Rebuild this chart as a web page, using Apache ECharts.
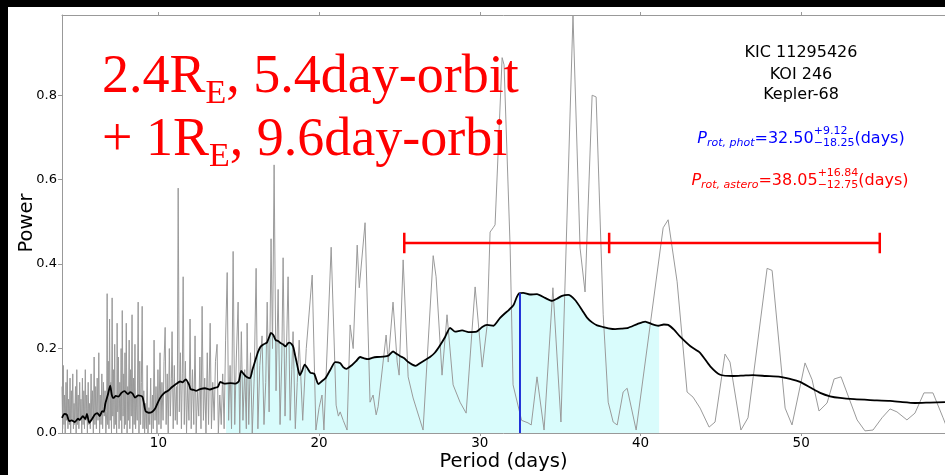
<!DOCTYPE html>
<html><head><meta charset="utf-8">
<script src="https://cdn.jsdelivr.net/npm/echarts@6/dist/echarts.min.js"></script>
<style>html,body{margin:0;padding:0;background:#000;}#c{width:945px;height:475px;}</style>
</head><body><div id="c"></div>
<script>
// ---------------- DATA ----------------
const periodogram = [
[4.00,0.11],[4.04,0.01],[4.08,0.16],[4.12,0.02],[4.16,0.09],[4.20,0.00],[4.25,0.12],[4.29,0.03],[4.33,0.15],[4.37,0.01],
[4.41,0.08],[4.46,0.02],[4.50,0.13],[4.54,0.00],[4.58,0.10],[4.62,0.03],[4.67,0.14],[4.71,0.01],[4.75,0.07],[4.79,0.02],
[4.84,0.11],[4.88,0.00],[4.92,0.15],[4.96,0.02],[5.01,0.09],[5.05,0.01],[5.10,0.12],[5.14,0.03],[5.18,0.08],[5.23,0.00],
[5.27,0.13],[5.31,0.02],[5.36,0.10],[5.40,0.01],[5.45,0.15],[5.49,0.03],[5.54,0.09],[5.58,0.00],[5.63,0.12],[5.67,0.02],
[5.72,0.07],[5.76,0.01],[5.81,0.14],[5.85,0.03],[5.90,0.10],[5.95,0.00],[6.00,0.18],[6.05,0.02],[6.10,0.11],[6.14,0.01],
[6.19,0.13],[6.24,0.03],[6.29,0.19],[6.34,0.00],[6.38,0.09],[6.43,0.02],[6.48,0.14],[6.53,0.01],[6.58,0.12],[6.63,0.04],
[6.68,0.10],[6.73,0.00],[6.78,0.05],[6.81,0.33],[6.84,0.02],[6.88,0.17],[6.92,0.01],[6.96,0.27],[7.00,0.03],[7.04,0.12],
[7.08,0.00],[7.12,0.32],[7.16,0.04],[7.20,0.15],[7.24,0.01],[7.28,0.21],[7.32,0.02],[7.36,0.09],[7.40,0.00],[7.43,0.26],
[7.47,0.05],[7.51,0.18],[7.55,0.01],[7.60,0.12],[7.64,0.03],[7.68,0.20],[7.72,0.00],[7.75,0.29],[7.80,0.04],[7.84,0.14],
[7.88,0.01],[7.92,0.19],[7.96,0.02],[8.00,0.26],[8.05,0.00],[8.09,0.11],[8.13,0.03],[8.18,0.22],[8.22,0.01],[8.27,0.15],
[8.31,0.04],[8.36,0.28],[8.40,0.00],[8.45,0.13],[8.49,0.02],[8.54,0.21],[8.58,0.01],[8.63,0.09],[8.68,0.03],[8.74,0.31],
[8.79,0.00],[8.84,0.17],[8.89,0.02],[8.94,0.12],[8.99,0.30],[9.04,0.01],[9.09,0.10],[9.14,0.00],[9.20,0.07],[9.25,0.01],
[9.30,0.16],[9.35,0.00],[9.41,0.06],[9.46,0.02],[9.52,0.13],[9.57,0.00],[9.63,0.09],[9.68,0.01],[9.73,0.22],[9.79,0.03],
[9.85,0.11],[9.91,0.00],[9.97,0.15],[10.03,0.02],[10.10,0.19],[10.16,0.01],[10.22,0.12],[10.29,0.03],[10.35,0.17],[10.42,0.25],
[10.48,0.02],[10.55,0.14],[10.61,0.00],[10.68,0.20],[10.74,0.04],[10.81,0.13],[10.85,0.24],[10.92,0.01],[10.99,0.16],[11.05,0.03],
[11.12,0.11],[11.17,0.02],[11.23,0.58],[11.30,0.05],[11.37,0.19],[11.43,0.01],[11.49,0.14],[11.54,0.37],[11.61,0.02],[11.68,0.17],
[11.75,0.00],[11.82,0.12],[11.90,0.03],[11.97,0.27],[12.04,0.01],[12.12,0.15],[12.20,0.02],[12.28,0.23],[12.35,0.00],[12.43,0.10],
[12.51,0.04],[12.58,0.18],[12.65,0.01],[12.72,0.30],[12.80,0.03],[12.88,0.13],[12.96,0.00],[13.04,0.19],[13.12,0.02],[13.22,0.26],
[13.30,0.01],[13.38,0.12],[13.47,0.03],[13.55,0.17],[13.65,0.21],[13.73,0.00],[13.82,0.09],[13.91,0.02],[14.00,0.14],[14.09,0.01],
[14.18,0.22],[14.28,0.38],[14.37,0.03],[14.46,0.16],[14.55,0.01],[14.65,0.43],[14.75,0.02],[14.85,0.18],[14.96,0.31],[15.06,0.00],
[15.16,0.24],[15.26,0.03],[15.37,0.15],[15.47,0.01],[15.52,0.26],[15.62,0.02],[15.73,0.19],[15.84,0.00],[15.96,0.13],[16.08,0.39],
[16.19,0.01],[16.31,0.16],[16.45,0.23],[16.57,0.02],[16.68,0.12],[16.77,0.31],[16.89,0.05],[17.01,0.46],[17.10,0.20],[17.20,0.635],
[17.32,0.10],[17.45,0.34],[17.57,0.02],[17.68,0.18],[17.76,0.415],[17.88,0.04],[18.07,0.37],[18.20,0.03],[18.30,0.15],[18.38,0.24],
[18.52,0.01],[18.64,0.12],[18.76,0.22],[18.98,0.03],[19.20,0.20],[19.57,0.374],[19.80,0.007],[20.00,0.06],[20.18,0.09],[20.30,0.007],
[20.75,0.44],[21.06,0.066],[21.20,0.04],[21.31,0.05],[21.50,0.03],[21.74,0.007],[21.93,0.256],[22.12,0.20],[22.37,0.445],[22.50,0.344],
[22.86,0.498],[23.17,0.073],[23.36,0.09],[23.55,0.043],[23.67,0.062],[24.17,0.232],[24.30,0.168],[24.60,0.31],[24.86,0.168],[24.98,0.137],
[25.23,0.41],[25.54,0.133],[25.85,0.083],[26.47,0.007],[27.10,0.42],[27.28,0.37],[27.65,0.137],[27.96,0.28],[28.34,0.114],[28.77,0.073],
[29.15,0.047],[29.71,0.346],[30.15,0.156],[30.46,0.256],[30.64,0.476],[30.83,0.486],[30.95,0.493],[31.39,0.889],[31.51,0.872],[31.89,0.438],
[32.07,0.114],[32.60,0.03],[33.00,0.024],[33.20,0.019],[33.56,0.133],[34.00,0.007],[34.55,0.344],[35.05,0.026],[35.80,0.99],[36.24,0.438],
[36.55,0.334],[36.99,0.80],[37.24,0.796],[37.68,0.28],[37.99,0.073],[38.30,0.026],[38.55,0.019],[38.92,0.097],[39.17,0.106],[39.73,0.007],
[41.41,0.486],[41.72,0.505],[42.28,0.358],[42.90,0.097],[43.27,0.085],[43.71,0.059],[44.27,0.014],[44.64,0.026],[45.26,0.187],[45.57,0.168],
[46.25,0.007],[46.69,0.036],[47.88,0.39],[48.19,0.385],[49.00,0.059],[49.43,0.019],[50.24,0.166],[50.68,0.126],[51.11,0.052],[51.61,0.071],
[52.05,0.128],[52.48,0.133],[53.48,0.031],[53.97,0.005],[54.47,0.007],[55.03,0.036],[55.53,0.057],[55.96,0.05],[56.58,0.031],[57.08,0.047],
[57.64,0.095],[58.20,0.095],[58.83,0.036],[59.20,0.00]
];
const smoothed = [
[4.0,0.036],[4.15,0.045],[4.3,0.043],[4.45,0.028],[4.6,0.03],[4.8,0.026],[5.0,0.034],[5.1,0.031],[5.3,0.04],[5.45,0.033],
[5.55,0.045],[5.7,0.024],[5.9,0.035],[6.05,0.044],[6.2,0.047],[6.35,0.04],[6.5,0.052],[6.6,0.05],[6.7,0.07],[6.85,0.09],
[7.0,0.112],[7.1,0.09],[7.2,0.083],[7.35,0.088],[7.5,0.086],[7.7,0.095],[7.9,0.099],[8.1,0.092],[8.25,0.097],[8.4,0.093],
[8.55,0.084],[8.75,0.089],[9.0,0.086],[9.1,0.07],[9.2,0.052],[9.4,0.048],[9.6,0.05],[9.8,0.058],[10.0,0.075],[10.2,0.088],
[10.4,0.096],[10.6,0.1],[10.85,0.109],[11.1,0.116],[11.35,0.122],[11.5,0.12],[11.7,0.127],[11.9,0.115],[12.0,0.104],[12.2,0.102],
[12.35,0.1],[12.6,0.104],[12.9,0.106],[13.2,0.103],[13.5,0.107],[13.7,0.109],[13.85,0.121],[14.1,0.117],[14.5,0.118],[14.8,0.117],
[15.0,0.122],[15.15,0.147],[15.3,0.14],[15.45,0.134],[15.7,0.13],[15.85,0.15],[16.0,0.168],[16.2,0.192],[16.35,0.204],[16.55,0.21],
[16.75,0.214],[16.9,0.228],[17.0,0.237],[17.15,0.232],[17.3,0.22],[17.45,0.218],[17.6,0.213],[17.75,0.21],[17.9,0.205],[18.05,0.212],
[18.15,0.214],[18.3,0.21],[18.4,0.203],[18.5,0.185],[18.6,0.168],[18.7,0.15],[18.8,0.137],[18.95,0.148],[19.1,0.162],[19.25,0.155],
[19.45,0.143],[19.7,0.14],[19.95,0.116],[20.15,0.122],[20.4,0.13],[20.7,0.15],[21.0,0.168],[21.3,0.166],[21.5,0.156],[21.7,0.152],
[22.05,0.161],[22.3,0.17],[22.55,0.18],[22.8,0.177],[23.05,0.175],[23.3,0.178],[23.6,0.18],[24.0,0.181],[24.3,0.183],[24.6,0.193],
[24.8,0.188],[25.05,0.182],[25.3,0.177],[25.55,0.168],[25.8,0.162],[26.0,0.159],[26.3,0.166],[26.6,0.173],[26.9,0.18],[27.2,0.19],
[27.5,0.206],[27.85,0.228],[28.15,0.249],[28.45,0.24],[28.9,0.243],[29.3,0.239],[29.8,0.24],[30.15,0.251],[30.45,0.256],[30.85,0.254],
[31.25,0.272],[31.55,0.283],[31.8,0.291],[32.1,0.303],[32.3,0.322],[32.45,0.331],[32.7,0.332],[33.12,0.328],[33.56,0.329],[34.06,0.32],
[34.5,0.313],[34.8,0.318],[35.12,0.325],[35.5,0.327],[35.93,0.315],[36.37,0.291],[36.7,0.272],[36.99,0.262],[37.3,0.255],[37.68,0.251],
[38.0,0.248],[38.42,0.246],[38.8,0.247],[39.23,0.249],[39.8,0.258],[40.29,0.264],[40.7,0.258],[41.1,0.254],[41.45,0.257],[41.72,0.256],
[42.1,0.244],[42.47,0.228],[43.09,0.206],[43.71,0.19],[44.34,0.158],[44.96,0.138],[45.77,0.135],[46.4,0.136],[47.01,0.137],[47.8,0.135],
[48.69,0.133],[49.3,0.128],[49.93,0.121],[50.6,0.107],[51.18,0.095],[51.8,0.087],[52.42,0.083],[53.3,0.08],[54.29,0.078],[55.53,0.076],
[56.3,0.073],[57.09,0.071],[58.0,0.072],[58.95,0.073]
];
const xTicks = [10, 20, 30, 40, 50];
const yTicks = [0.0, 0.2, 0.4, 0.6, 0.8];
const xRange = [4.0, 58.95];
const yRange = [0, 0.99];
const pPhot = 32.50, pPhotMinus = 18.25, pPhotPlus = 9.12;
const pAstero = 38.05, pAsteroMinus = 12.75, pAsteroPlus = 16.84;
const errBarLevel = 0.45;
const fillRange = [14.21, 41.16];
const starLabels = ['KIC 11295426', 'KOI 246', 'Kepler-68'];
const bigLines = [['2.4R', 'E', ', 5.4day-orbit'], ['+ 1R', 'E', ', 9.6day-orbi']];

// ---------------- HELPERS ----------------
function interp(arr, x) {
  for (let i = 1; i < arr.length; i++) {
    if (arr[i][0] >= x) {
      const a = arr[i-1], b = arr[i];
      return a[1] + (b[1]-a[1]) * (x-a[0]) / (b[0]-a[0]);
    }
  }
  return arr[arr.length-1][1];
}
const fillData = [[fillRange[0], interp(smoothed, fillRange[0])]]
  .concat(smoothed.filter(d => d[0] > fillRange[0] && d[0] < fillRange[1]))
  .concat([[fillRange[1], interp(smoothed, fillRange[1])]]);
const photHeight = interp(smoothed, pPhot);
const errLo = pAstero - pAsteroMinus, errHi = pAstero + pAsteroPlus;

const mctx = document.createElement('canvas').getContext('2d');
function fnt(p) { return (p.style || 'normal') + ' ' + p.size + 'px ' + (p.family || '"DejaVu Sans"'); }
function tw(font, t) { mctx.font = font; mctx.textBaseline = 'alphabetic'; return mctx.measureText(t).width; }
function baseOff(font) {
  mctx.font = font; mctx.textBaseline = 'middle';
  const m = mctx.measureText('H'); mctx.textBaseline = 'alphabetic';
  return m.actualBoundingBoxDescent;
}
function richLine(pieces, x, baseline, align, color) {
  let cur = 0; const placed = [];
  pieces.forEach(p => {
    if (p.stack) {
      let w = 0;
      p.stack.forEach(q => { placed.push({q: q, x: cur}); w = Math.max(w, tw(fnt(q), q.t)); });
      cur += w;
    } else {
      placed.push({q: p, x: cur}); cur += tw(fnt(p), p.t);
    }
  });
  const x0 = align === 'center' ? x - cur / 2 : x;
  return placed.map(o => {
    const f = fnt(o.q);
    return { type: 'text', x: x0 + o.x, y: baseline + (o.q.dy || 0) - baseOff(f), silent: true, z: 100,
      style: { text: o.q.t, font: f, fill: color, textAlign: 'left', textVerticalAlign: 'middle' } };
  });
}

// ---------------- GRAPHICS ----------------
const graphics = [];
graphics.push({ type: 'rect', shape: { x: 8, y: 7, width: 937, height: 468 }, style: { fill: '#fff' }, z: -100, silent: true });
const serif = '"Liberation Serif"';
bigLines.forEach((ln, i) => {
  graphics.push(...richLine([
    { t: ln[0], size: 54, family: serif },
    { t: ln[1], size: 34, family: serif, dy: 11 },
    { t: ln[2], size: 54, family: serif }
  ], 102, 92 + i * 63, 'left', '#ff0000'));
});
[57, 79, 99].forEach((b, i) => {
  graphics.push(...richLine([{ t: starLabels[i], size: 16 }], 801, b, 'center', '#000'));
});
function fmt(v) { return v.toFixed(2); }
graphics.push(...richLine([
  { t: 'P', size: 16, style: 'italic' },
  { t: 'rot, phot', size: 11, style: 'italic', dy: 3 },
  { t: '=' + fmt(pPhot), size: 16 },
  { stack: [{ t: '+' + fmt(pPhotPlus), size: 11, dy: -9 }, { t: '\u2212' + fmt(pPhotMinus), size: 11, dy: 3 }] },
  { t: '(days)', size: 16 }
], 801, 143, 'center', '#0000ff'));
graphics.push(...richLine([
  { t: 'P', size: 16, style: 'italic' },
  { t: 'rot, astero', size: 11, style: 'italic', dy: 3 },
  { t: '=' + fmt(pAstero), size: 16 },
  { stack: [{ t: '+' + fmt(pAsteroPlus), size: 11, dy: -9 }, { t: '\u2212' + fmt(pAsteroMinus), size: 11, dy: 3 }] },
  { t: '(days)', size: 16 }
], 800, 185, 'center', '#ff0000'));
graphics.push(...richLine([{ t: 'Period (days)', size: 19.5 }], 503.5, 467, 'center', '#000'));
(function () {
  const f = fnt({ size: 19.5 });
  graphics.push({ type: 'text', x: 32 - baseOff(f), y: 223, rotation: Math.PI / 2, silent: true, z: 100,
    style: { text: 'Power', font: f, fill: '#000', textAlign: 'center', textVerticalAlign: 'middle' } });
})();

// ---------------- CHART ----------------
const spine = '#999';
const capHalf = 0.024;
const capSeries = [errLo, pAstero, errHi].map(v => ({
  type: 'line', data: [[v, errBarLevel - capHalf], [v, errBarLevel + capHalf]], symbol: 'none', silent: true, z: 7,
  lineStyle: { color: '#ff0000', width: 2.5 }
}));
const chart = echarts.init(document.getElementById('c'), null, { renderer: 'canvas' });
chart.setOption({
  animation: false,
  backgroundColor: '#000',
  grid: { left: 62, top: 15, right: 0, bottom: 42, containLabel: false },
  xAxis: [{
    type: 'value', min: xRange[0], max: xRange[1], position: 'bottom',
    axisLine: { show: true, lineStyle: { color: spine, width: 1 } },
    axisTick: { show: true, length: 3, customValues: xTicks, lineStyle: { color: spine } },
    axisLabel: { customValues: xTicks, color: '#000', fontSize: 13.5, fontFamily: 'DejaVu Sans', margin: 3 },
    splitLine: { show: false }
  }, {
    type: 'value', min: xRange[0], max: xRange[1], position: 'top',
    axisLine: { show: true, lineStyle: { color: spine, width: 1 } },
    axisTick: { show: true, length: 3, customValues: xTicks, lineStyle: { color: spine } },
    axisLabel: { show: false }, splitLine: { show: false }
  }],
  yAxis: {
    type: 'value', min: yRange[0], max: yRange[1],
    axisLine: { show: true, lineStyle: { color: spine, width: 1 } },
    axisTick: { show: true, length: 4, customValues: yTicks, lineStyle: { color: spine } },
    axisLabel: { customValues: yTicks, color: '#000', fontSize: 13, fontFamily: 'DejaVu Sans', margin: 5,
      formatter: v => v.toFixed(1) },
    splitLine: { show: false }
  },
  graphic: { elements: graphics },
  series: [
    { type: 'line', data: fillData, symbol: 'none', smooth: 0.2, silent: true, z: 1,
      lineStyle: { width: 0 }, areaStyle: { color: '#d9fcfc', opacity: 1 } },
    { type: 'line', data: periodogram, symbol: 'none', silent: true, z: 2,
      lineStyle: { color: '#9a9a9a', width: 1 } },
    { type: 'line', data: smoothed, symbol: 'none', smooth: 0.2, silent: true, z: 3,
      lineStyle: { color: '#000', width: 1.8 } },
    { type: 'line', data: [[pPhot, 0], [pPhot, photHeight]], symbol: 'none', silent: true, z: 4,
      lineStyle: { color: '#1f30d8', width: 2 } },
    { type: 'line', data: [[errLo, errBarLevel], [errHi, errBarLevel]], symbol: 'none', silent: true, z: 6,
      lineStyle: { color: '#ff0000', width: 2.5 } }
  ].concat(capSeries)
});
</script>
</body></html>
